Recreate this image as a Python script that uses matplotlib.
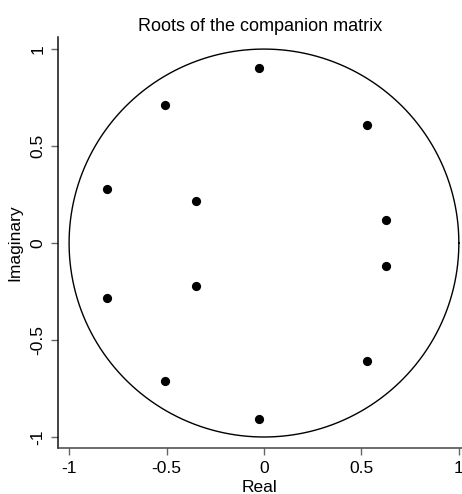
import numpy as np
import matplotlib
matplotlib.use("Agg")
import matplotlib.pyplot as plt

plt.rcParams['font.family'] = ['Liberation Sans', 'DejaVu Sans']

real = [-0.027, -0.027, -0.51, -0.51, 0.53, 0.53, -0.806, -0.806, -0.351, -0.351, 0.625, 0.625]
imag = [0.905, -0.905, 0.713, -0.713, 0.61, -0.61, 0.281, -0.281, 0.219, -0.219, 0.118, -0.118]
ticks = [-1, -0.5, 0, 0.5, 1]
tick_labels = ["-1", "-0.5", "0", "0.5", "1"]

fig = plt.figure(figsize=(4.62, 4.94), dpi=100)
ax = fig.add_axes([0.1255, 0.093, 0.874, 0.832])

theta = np.linspace(0, 2 * np.pi, 400)
ax.plot(np.cos(theta), np.sin(theta), color='black', lw=1.0)
ax.scatter(real, imag, s=44, color='black', zorder=3, linewidths=0)

ax.set_xlim(-1.057, 1.015)
ax.set_ylim(-1.057, 1.062)
ax.set_xticks(ticks)
ax.set_xticklabels(tick_labels, fontsize=12.5)
ax.set_yticks(ticks)
ax.set_yticklabels(tick_labels, fontsize=12.5, rotation=90, va='center')
for s in ['top', 'right']:
    ax.spines[s].set_visible(False)
ax.spines['left'].set_color('#111111')
ax.spines['bottom'].set_color('#444444')
for s in ['left', 'bottom']:
    ax.spines[s].set_linewidth(1.1)
ax.tick_params(direction='out', length=5, width=1, color='#666666', pad=4)
ax.set_title("Roots of the companion matrix", fontsize=13, pad=4.5)
ax.set_xlabel("Real", fontsize=12.5, labelpad=3)
ax.set_ylabel("Imaginary", fontsize=12.5, labelpad=6)

fig.savefig("out.png", dpi=100)
